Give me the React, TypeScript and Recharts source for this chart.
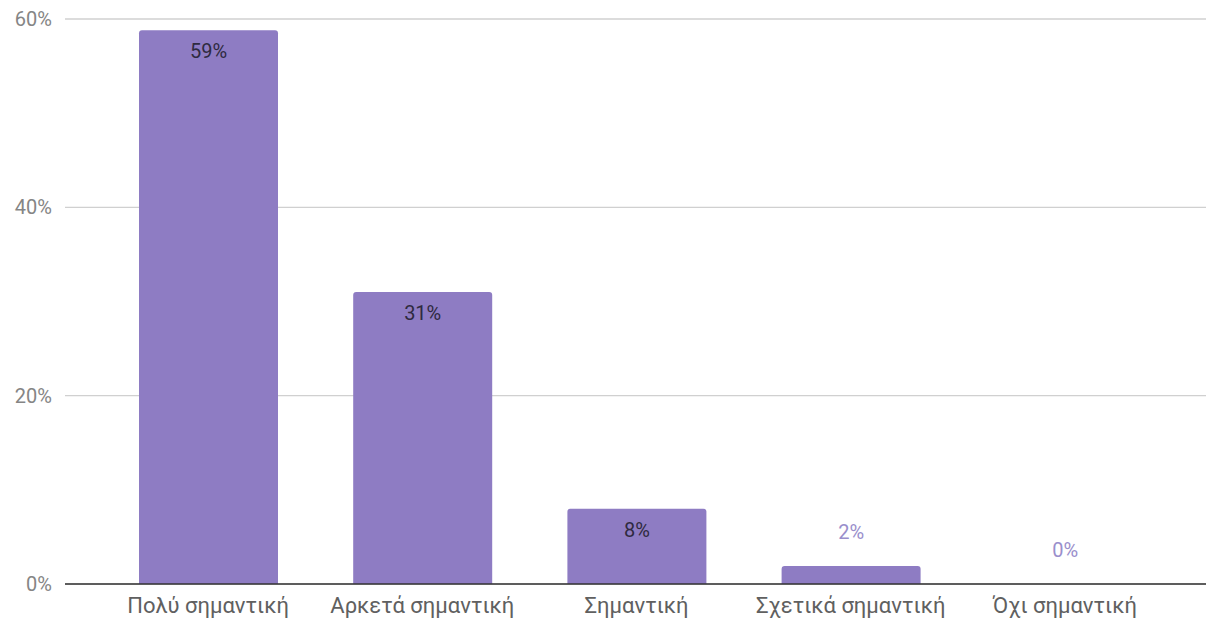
import React from 'react';
import { BarChart, Bar, XAxis, YAxis, CartesianGrid, Rectangle } from 'recharts';

const categories = ['Πολύ σημαντική', 'Αρκετά σημαντική', 'Σημαντική', 'Σχετικά σημαντική', 'Όχι σημαντική'];
const values = [58.8, 31, 8, 1.9, 0];
const valueLabels = ['59%', '31%', '8%', '2%', '0%'];
const yTicks = [0, 20, 40, 60];

const data = categories.map((c, i) => ({ name: c, value: values[i], label: valueLabels[i] }));

const BarWithLabel = (props: any) => {
  const { x, y, width, height, index, fill } = props;
  const v = values[index];
  const inside = v >= 5;
  const cx = x + width / 2;
  const cy = inside ? y + 21 : y - 34;
  return (
    <g>
      {height > 0 && <Rectangle x={x} y={y} width={width} height={height} fill={fill} radius={[3, 3, 0, 0]} />}
      <text x={cx} y={cy} textAnchor="middle" dominantBaseline="central" fontSize={20}
        fill={inside ? '#2e2a40' : '#9a8fcc'} fontFamily="Roboto">
        {valueLabels[index]}
      </text>
    </g>
  );
};

export default function App() {
  return (
    <div style={{ position: 'absolute', left: 0, top: 0, background: '#fff' }}>
      <BarChart width={1206} height={618} data={data}
        margin={{ top: 19, right: 0, left: 0, bottom: 0 }}>
        <CartesianGrid vertical={false} stroke="#d0d0d0" strokeWidth={1.3} />
        <XAxis dataKey="name" height={34} tickLine={false}
          axisLine={{ stroke: '#333', strokeWidth: 1.5 }}
          padding={{ left: 36, right: 34 }}
          tick={{ fontSize: 22, fill: '#606060', fontFamily: 'Roboto' }} tickMargin={7} interval={0} />
        <YAxis width={65} domain={[0, 60]} ticks={yTicks} tickLine={false} axisLine={false}
          tickFormatter={(v: number) => `${v}%`} tickMargin={7}
          tick={{ fontSize: 20, fill: '#858585', fontFamily: 'Roboto' }} />
        <Bar dataKey="value" fill="#8e7cc3" barSize={139} isAnimationActive={false}
          shape={BarWithLabel} />
      </BarChart>
    </div>
  );
}
